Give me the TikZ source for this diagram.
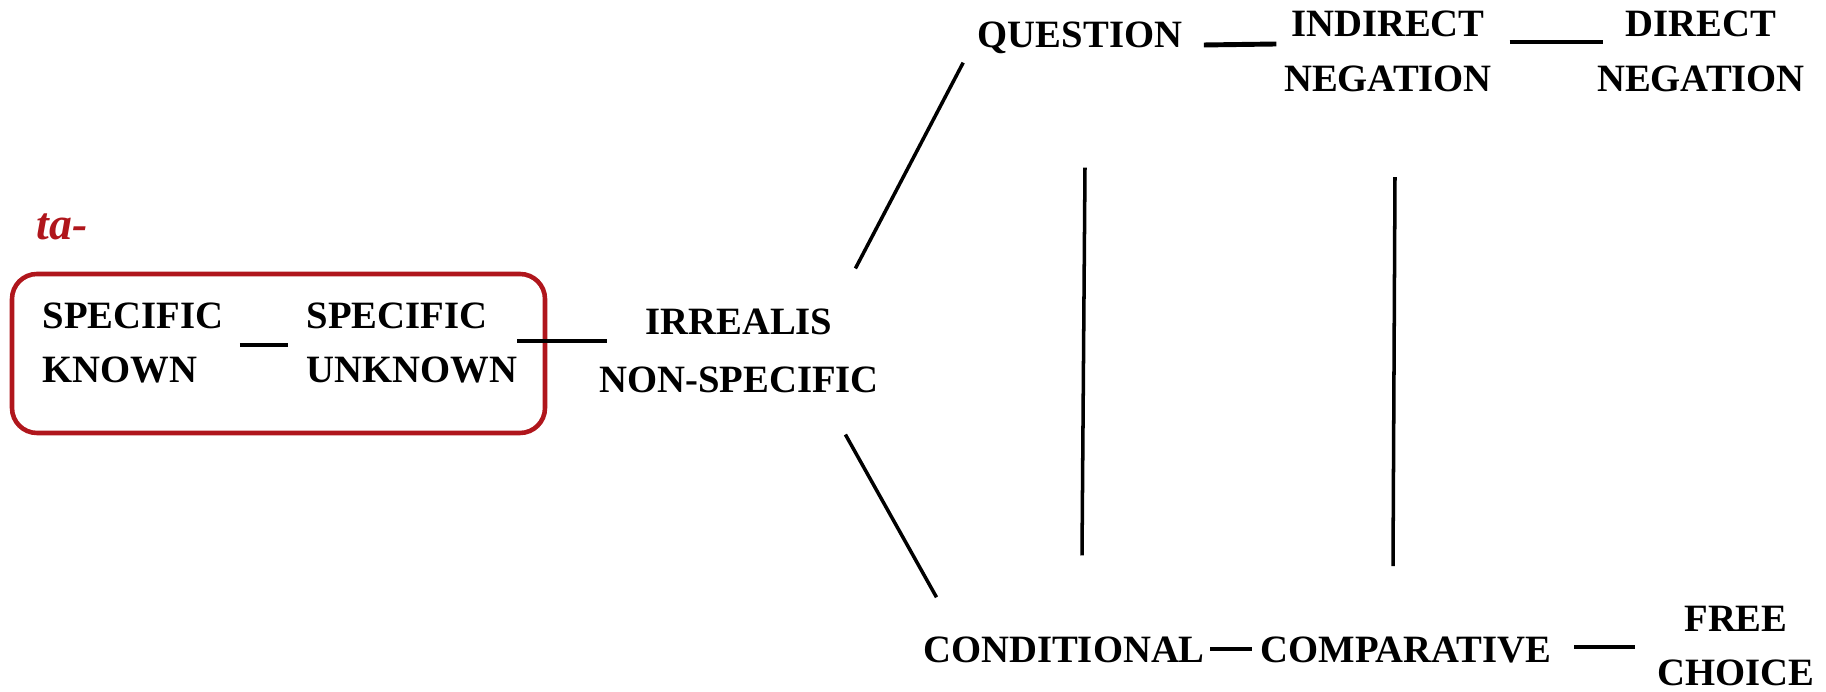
\documentclass[tikz,border=0pt]{standalone}
\usepackage{fontspec}
\setmainfont{Liberation Serif}
\usepackage{tikz}

\definecolor{tared}{RGB}{176,22,28}

\begin{document}
\begin{tikzpicture}[x=0.01cm, y=-0.01cm,
    cat/.style={font=\bfseries\fontsize{11}{15.6}\selectfont, align=center, inner sep=0pt},
    link/.style={black, line width=1.4pt},
    slant/.style={black, line width=1pt}]
  \useasboundingbox (0,0) rectangle (1826,692);

  \node[font=\bfseries\itshape\fontsize{13}{15}\selectfont, text=tared] (ta) at (62,227) {ta-};
  \draw[tared, line width=1.3pt, rounded corners=0.25cm] (12,274) rectangle (545,433);

  \node[cat, align=left] (sk) at (133,343) {SPECIFIC\\KNOWN};
  \node[cat, align=left] (su) at (412,343) {SPECIFIC\\UNKNOWN};
  \node[cat, font=\bfseries\fontsize{11}{16.4}\selectfont] (irr) at (739,351) {IRREALIS\\NON-SPECIFIC};
  \node[cat] (q) at (1080,38) {QUESTION};
  \node[cat] (ind) at (1388,51) {INDIRECT\\NEGATION};
  \node[cat] (dir) at (1701,51) {DIRECT\\NEGATION};
  \node[cat] (cond) at (1064,650) {CONDITIONAL};
  \node[cat] (comp) at (1406,650) {COMPARATIVE};
  \node[cat] (fc) at (1736,646) {FREE\\CHOICE};

  \draw[link] ([shift={(16,2)}]sk.east) -- ([shift={(-18,2)}]su.west);
  \draw[link] ([shift={(-1,-2)}]su.east) -- ([shift={(8,-10)}]irr.west);
  \draw[slant] ([shift={(-24,-40)}]irr.north east) -- ([shift={(-14,8)}]q.south west);
  \draw[slant] ([shift={(-34,41)}]irr.south east) -- ([shift={(14,-39)}]cond.north west);
  \draw[slant] ([shift={(5,113)}]q.south) -- ([shift={(18,-81)}]cond.north);
  \draw[slant] ([shift={(7,85)}]ind.south) -- ([shift={(-13,-70)}]comp.north);
  \draw[link] ([shift={(21,7)}]q.east) -- ([shift={(-7,-7)}]ind.west);
  \draw[link] ([shift={(17,-9)}]ind.east) -- ([shift={(7,-9)}]dir.west);
  \draw[link] ([shift={(5,-1)}]cond.east) -- ([shift={(-8,-1)}]comp.west);
  \draw[link] ([shift={(22,-3)}]comp.east) -- ([shift={(-22,1)}]fc.west);
\end{tikzpicture}
\end{document}
